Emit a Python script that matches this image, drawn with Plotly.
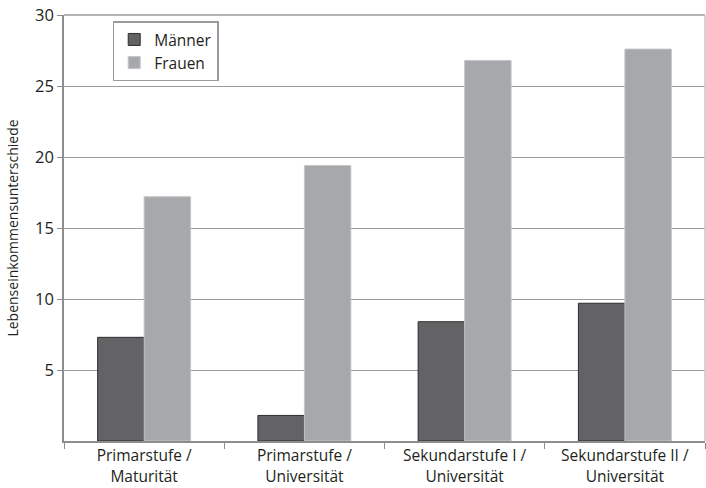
import plotly.graph_objects as go

categories = ["Primarstufe /<br>Maturität", "Primarstufe /<br>Universität",
              "Sekundarstufe I /<br>Universität", "Sekundarstufe II /<br>Universität"]
maenner = [7.3, 1.8, 8.4, 9.7]
frauen = [17.2, 19.4, 26.8, 27.6]
y_ticks = [5, 10, 15, 20, 25, 30]

font_family = "Open Sans, Lato, sans-serif"

fig = go.Figure()
fig.add_trace(go.Bar(x=categories, y=maenner, name="Männer",
                     marker=dict(color="#636365", line=dict(color="#2e2e2e", width=1))))
fig.add_trace(go.Bar(x=categories, y=frauen, name="Frauen",
                     marker=dict(color="#a7a8ab", line=dict(color="#c4c5c7", width=1))))

fig.update_layout(
    width=706, height=488,
    margin=dict(l=64, r=1, t=15, b=47),
    paper_bgcolor="white", plot_bgcolor="white",
    barmode="group", bargap=0.42, bargroupgap=0,
    font=dict(family=font_family, size=15, color="#231f20"),
    legend=dict(x=0.076, y=0.985, xanchor="left", yanchor="top",
                bordercolor="#9a9b9e", borderwidth=1.5, bgcolor="white",
                font=dict(size=15.5), itemwidth=30, tracegroupgap=0),
    xaxis=dict(showline=True, linecolor="#8c8d90", linewidth=1.5,
               ticks="outside", tickson="boundaries", ticklen=6,
               tickcolor="#8c8d90", tickfont=dict(size=15.5), mirror=False,
               ticklabelstandoff=0, automargin=False),
    yaxis=dict(range=[0, 30], tickvals=y_ticks, showgrid=True,
               gridcolor="#9a9b9e", gridwidth=1.2, showline=True,
               linecolor="#8c8d90", linewidth=1.5, ticks="outside", ticklen=5,
               tickcolor="#8c8d90", tickfont=dict(size=16.5), automargin=False,
               title=dict(text="Lebenseinkommensunterschiede", font=dict(size=14), standoff=13)),
)

# top and right border of the plot area
fig.add_shape(type="line", xref="paper", yref="paper", x0=0, x1=1, y0=1, y1=1,
              line=dict(color="#9a9b9e", width=1.5))
fig.add_shape(type="line", xref="paper", yref="paper", x0=1, x1=1, y0=0, y1=1,
              line=dict(color="#c4c5c7", width=1.5))

fig.write_html("out.html")
